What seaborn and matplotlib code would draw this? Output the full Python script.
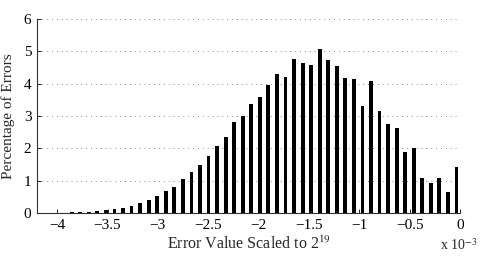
import seaborn as sns
import matplotlib.pyplot as plt
import pandas as pd

# bin centres (x 10^-3) and share of errors in each bin (%)
bin_centers = [-4.110, -4.025, -3.940, -3.856, -3.771, -3.686, -3.601, -3.516,
               -3.431, -3.346, -3.261, -3.176, -3.091, -3.007, -2.922, -2.837,
               -2.752, -2.667, -2.582, -2.497, -2.412, -2.327, -2.242, -2.158,
               -2.073, -1.988, -1.903, -1.818, -1.733, -1.648, -1.563, -1.478,
               -1.393, -1.309, -1.224, -1.139, -1.054, -0.969, -0.884, -0.799,
               -0.714, -0.629, -0.544, -0.460, -0.375, -0.290, -0.205, -0.120,
               -0.035]
percent = [0.01, 0.01, 0.01, 0.02, 0.02, 0.04, 0.06, 0.09,
           0.11, 0.17, 0.21, 0.30, 0.40, 0.54, 0.67, 0.79,
           1.04, 1.26, 1.48, 1.75, 2.07, 2.34, 2.81, 3.01,
           3.36, 3.60, 3.96, 4.30, 4.22, 4.77, 4.65, 4.57,
           5.08, 4.73, 4.56, 4.17, 4.14, 3.32, 4.07, 3.17,
           2.75, 2.63, 1.88, 2.02, 1.08, 0.92, 1.07, 0.64,
           1.43]
x_ticks = [-4, -3.5, -3, -2.5, -2, -1.5, -1, -0.5, 0]
y_ticks = [0, 1, 2, 3, 4, 5, 6]

df = pd.DataFrame({'err': bin_centers, 'pct': percent})

sns.set_style('ticks')
plt.rcParams['font.family'] = ['Liberation Serif', 'DejaVu Serif']
plt.rcParams['mathtext.fontset'] = 'stix'
plt.rcParams['xtick.direction'] = 'in'
plt.rcParams['ytick.direction'] = 'in'

fig = plt.figure(figsize=(4.85, 2.58), dpi=100)
ax = fig.add_axes([0.0763, 0.1744, 0.8722, 0.7516])

sns.barplot(data=df, x='err', y='pct', native_scale=True, color='black',
            saturation=1, width=0.45, edgecolor='none', ax=ax, zorder=3)

ax.set_xlim(-4.2, 0)
ax.set_ylim(0, 6)
ax.set_xticks(x_ticks)
ax.set_xticklabels([f'{t:g}'.replace('-', '\u2212') for t in x_ticks])
ax.set_yticks(y_ticks)
ax.tick_params(labelsize=11, length=3, width=0.6, colors='black', pad=4)
ax.yaxis.grid(True, linestyle=(0, (1, 4)), color='#888888', linewidth=0.7)
ax.xaxis.grid(False)
sns.despine(ax=ax)
for s in ['left', 'bottom']:
    ax.spines[s].set_linewidth(0.8)
    ax.spines[s].set_color('#333333')

ax.set_xlabel('Error Value Scaled to 2$^{19}$', fontsize=11.5, labelpad=3)
ax.set_ylabel('Percentage of Errors', fontsize=11, labelpad=6)
fig.text(0.908, 0.02, 'x 10$^{-3}$', fontsize=10, ha='left', va='bottom')

fig.savefig('out.png', dpi=100)
